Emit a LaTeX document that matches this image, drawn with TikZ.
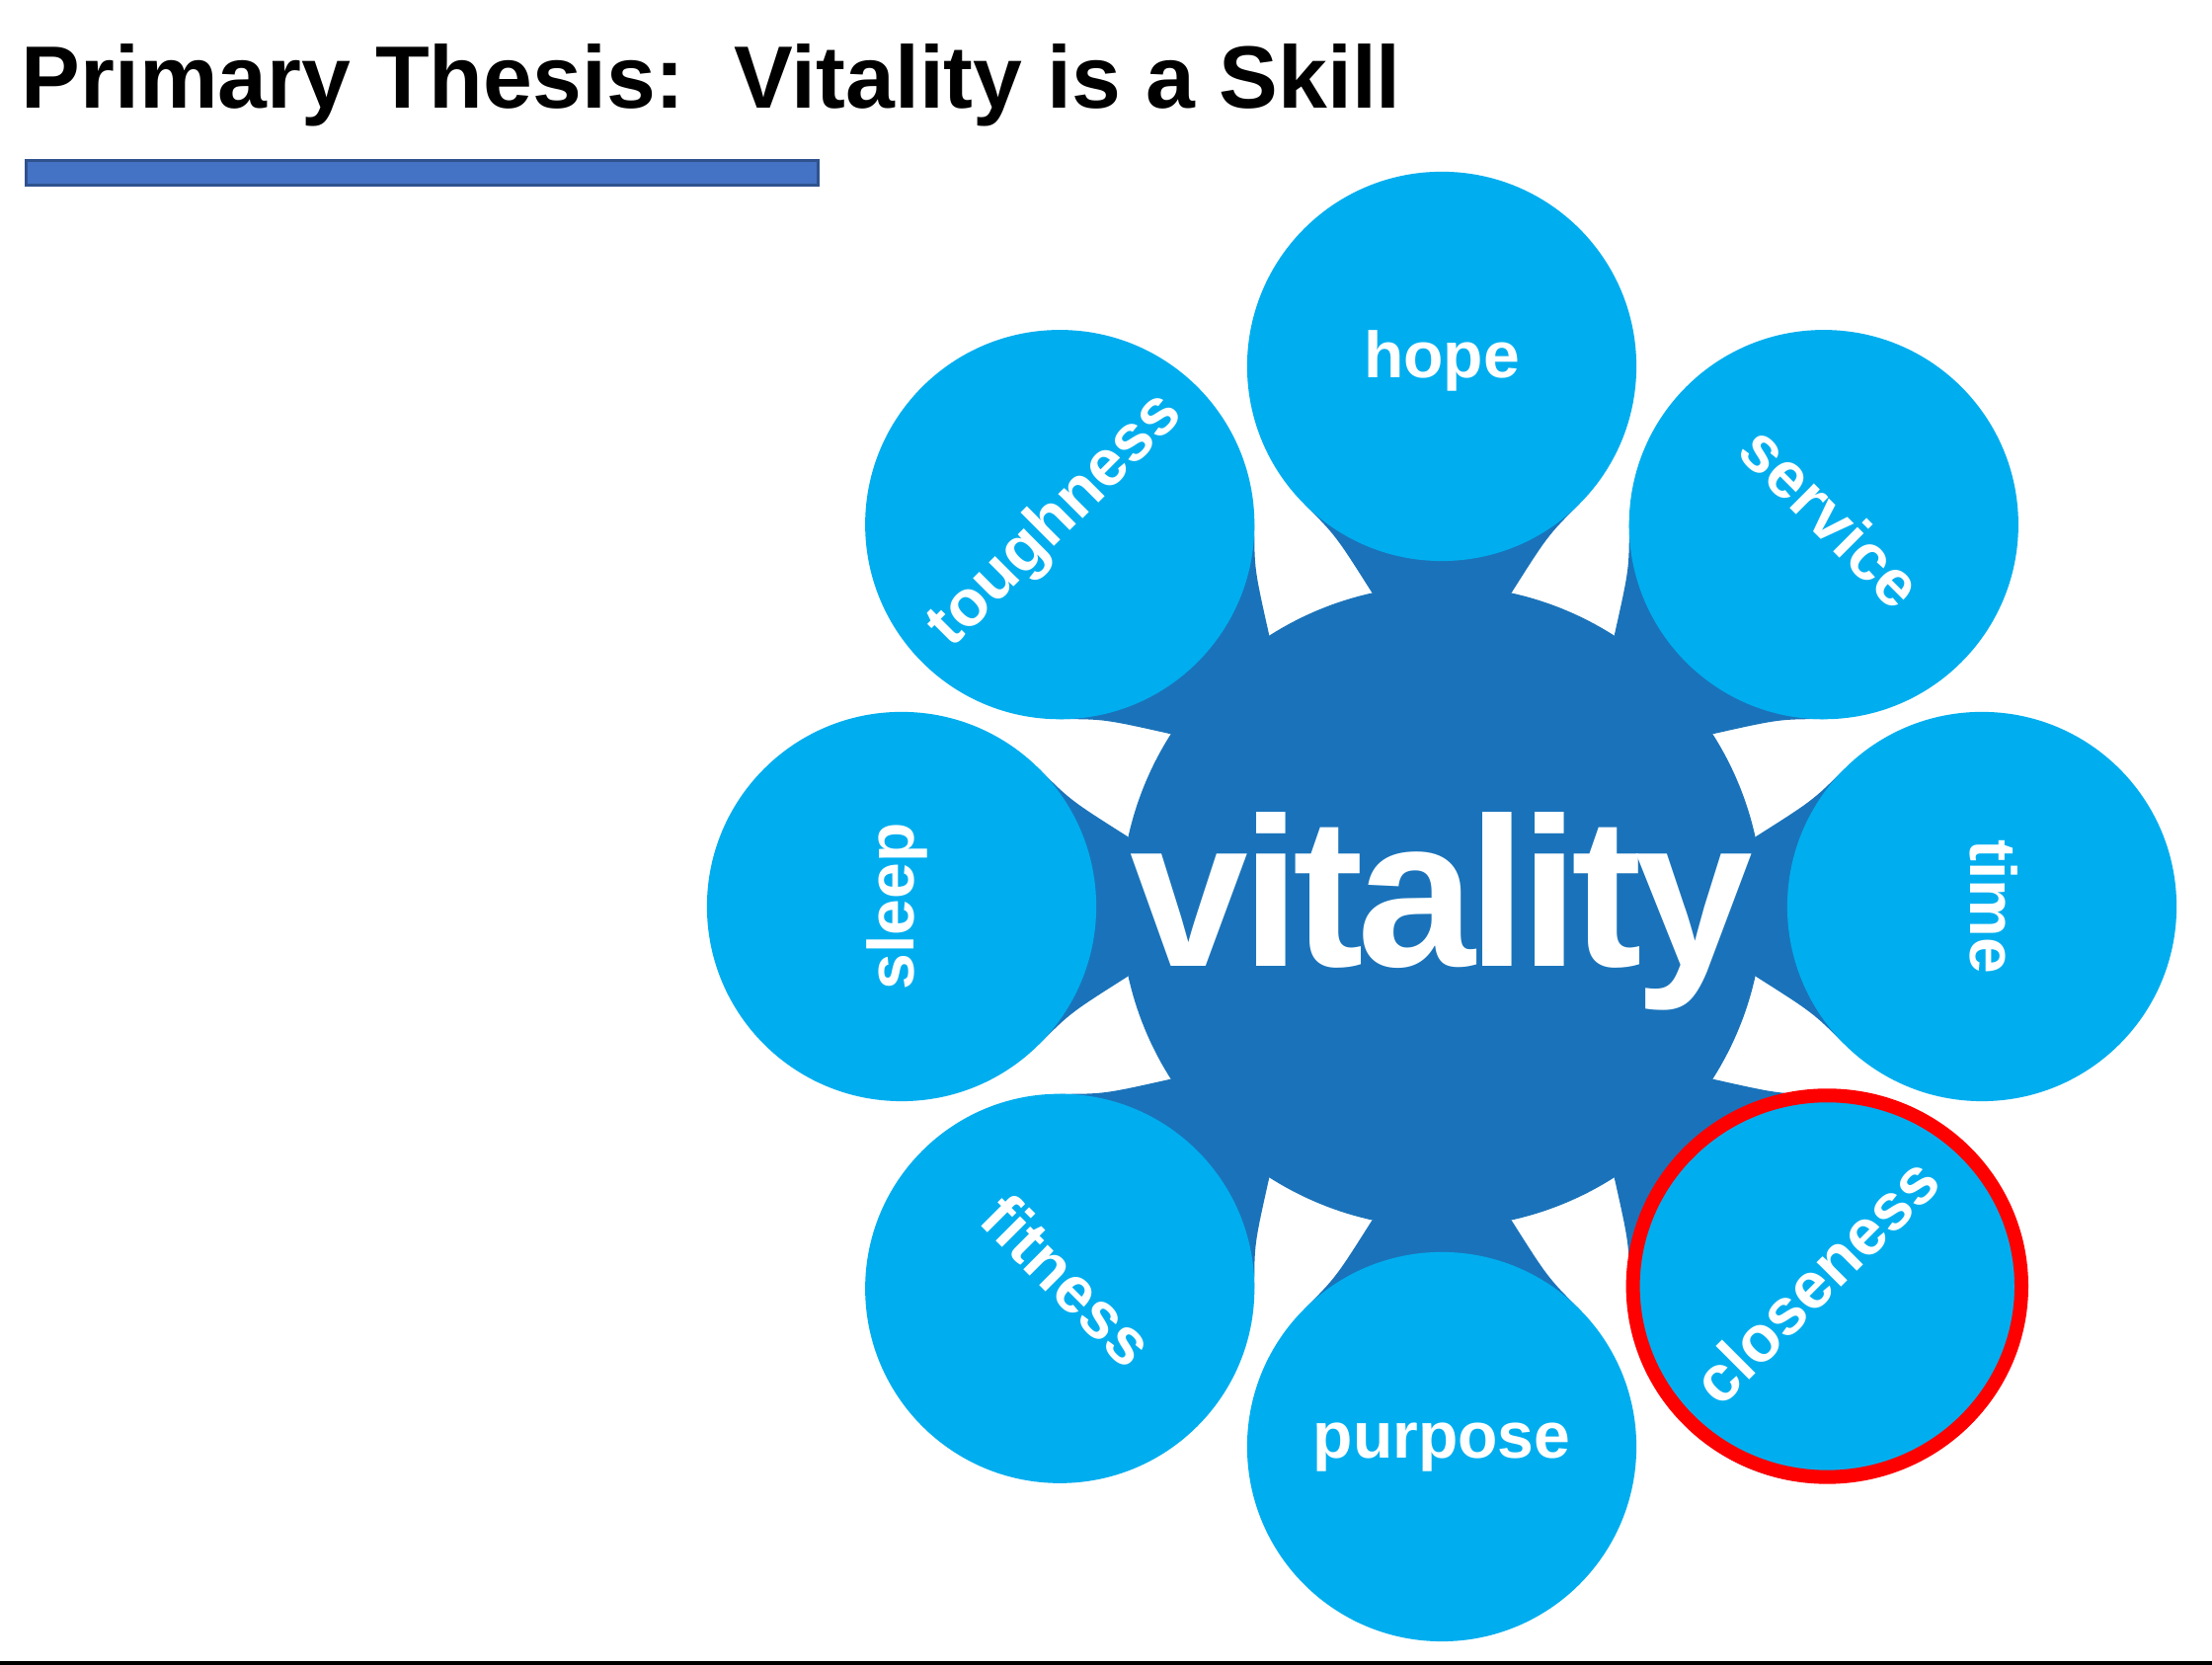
\documentclass[tikz,border=0pt]{standalone}
\usepackage{fontspec}
\setmainfont{Liberation Sans}
\newfontfamily\vitfont[LetterSpace=-3.4]{Liberation Sans}
\usetikzlibrary{calc,backgrounds}
\definecolor{lightb}{RGB}{0,174,239}
\definecolor{darkb}{RGB}{26,115,186}
\definecolor{barfill}{RGB}{68,114,196}
\definecolor{barline}{RGB}{47,82,143}
\definecolor{ringred}{RGB}{255,0,0}
\begin{document}
\begin{tikzpicture}[x=0.01cm,y=0.01cm,
  sat/.style={circle,fill=lightb,draw=none,minimum size=3.94cm,inner sep=0pt,outer sep=0pt},
  hub/.style={circle,fill=darkb,draw=none,minimum size=6.5cm,inner sep=0pt,outer sep=0pt},
  lbl/.style={text=white,inner sep=0pt,anchor=base,font=\bfseries\fontsize{18.78pt}{22pt}\selectfont},
  vitlbl/.style={text=white,inner sep=0pt,anchor=base,font=\vitfont\bfseries\fontsize{61.2pt}{70pt}\selectfont},
  titlelbl/.style={anchor=base west,inner sep=0pt,font=\bfseries\fontsize{25.47pt}{30pt}\selectfont},
  neck/.style={fill=darkb,draw=none},
  ring/.style={draw=ringred,line width=3.98pt},
  barbox/.style={draw=barline,fill=barfill,line width=0.85pt,minimum width=8.02cm,minimum height=0.25cm,inner sep=0pt,outer sep=0pt,anchor=south west}
]
\useasboundingbox (0,0) rectangle (2240,1686);
% title and bar
\node[titlelbl] (title) at (21,1576) {Primary Thesis:\ \ Vitality is a Skill};
\node[barbox] (bar) at (26.5,1498.5) {};
% hub
\node[hub] (hub) at (1460,768) {};
\node[vitlbl] (vit) at (1460,707) {vitality};
% satellites
\foreach \n/\a/\r in {hope/90/0, service/45/-45, time/0/-90, closeness/-45/45, purpose/-90/0, fitness/-135/-45, sleep/180/90, toughness/135/45}{
  \node[sat] (\n) at ($(hub)+(\a:547)$) {};
  \node[lbl,rotate=\r] (\n-t) at ($(\n)+(\r-90:12)$) {\n};
}
% necks behind
\begin{pgfonlayer}{background}
\fill[white] (0,0) rectangle (2240,1686);
\foreach \n/\a in {hope/90, service/45, time/0, closeness/-45, purpose/-90, fitness/-135, sleep/180, toughness/135}{
  \fill[neck] ($(\n)+(\a+225:197)$) .. controls ($(\n)+(\a+225:197)+(\a+135:45)$) .. ($(hub)+(\a-12.5:325)$)
     -- ($(hub)+(\a+12.5:325)$) .. controls ($(\n)+(\a+135:197)+(\a+225:45)$) .. ($(\n)+(\a+135:197)$) -- cycle;
}
\end{pgfonlayer}
% highlight ring
\draw[ring] (1850.3,383.5) ellipse [x radius=196.7, y radius=193.2];
% bottom rule
\fill[black] (0,0) rectangle (2240,4);
\end{tikzpicture}
\end{document}
